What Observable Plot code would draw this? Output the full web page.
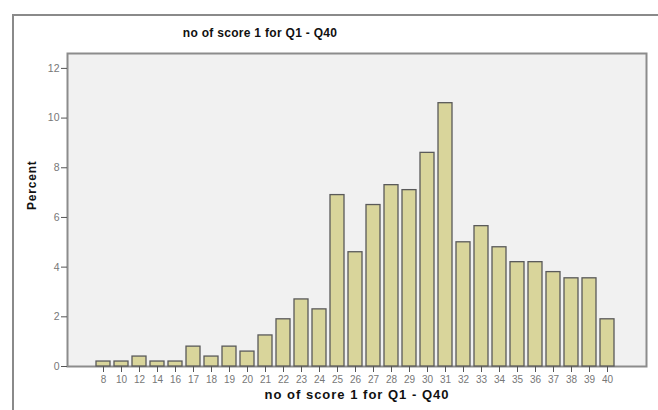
<!DOCTYPE html>
<html>
<head>
<meta charset="utf-8">
<script src="https://cdn.jsdelivr.net/npm/d3@7"></script>
<script src="https://cdn.jsdelivr.net/npm/@observablehq/plot@0.6"></script>
<style>
  html, body { margin: 0; padding: 0; background: #fff; }
  #wrap { position: relative; width: 658px; height: 410px; overflow: hidden; font-family: "Liberation Sans", Arial, sans-serif; }
  #outer { position: absolute; left: 12px; top: 14px; width: 700px; height: 460px; border-left: 2px solid #8a8a8a; border-top: 2px solid #8a8a8a; }
  #chart { position: absolute; left: 0; top: 0; }
</style>
</head>
<body>
<div id="wrap"><div id="outer"></div><div id="chart"></div></div>
<script>
const scores = [8, 10, 12, 14, 16, 17, 18, 19, 20, 21, 22, 23, 24, 25, 26, 27, 28, 29, 30, 31, 32, 33, 34, 35, 36, 37, 38, 39, 40];
const percents = [0.2, 0.2, 0.4, 0.2, 0.2, 0.8, 0.4, 0.8, 0.6, 1.25, 1.9, 2.7, 2.3, 6.9, 4.6, 6.5, 7.3, 7.1, 8.6, 10.6, 5.0, 5.65, 4.8, 4.2, 4.2, 3.8, 3.55, 3.55, 1.9];
const yTicks = [0, 2, 4, 6, 8, 10, 12];
const title = "no of score 1 for Q1 - Q40";
const xLabel = "no of score 1 for Q1 - Q40";
const yLabel = "Percent";

const data = scores.map((s, i) => ({score: String(s), pct: percents[i]}));

const chart = Plot.plot({
  width: 658,
  height: 410,
  marginLeft: 67,
  marginRight: 12,
  marginTop: 53,
  marginBottom: 44,
  style: {background: "transparent", fontFamily: "'Liberation Sans', Arial, sans-serif"},
  x: {domain: scores.map(String), padding: 0.22, insetLeft: 25, insetRight: 27},
  y: {domain: [0, 12.6]},
  marks: [
    Plot.frame({fill: "#f1f1f1", stroke: "#8c8c8c", strokeWidth: 2}),
    Plot.barY(data, {x: "score", y: "pct", fill: "#d9d59b", stroke: "#5a5a5a", strokeWidth: 1.3}),
    Plot.axisX({tickSize: 6, tickPadding: 3, fontSize: 10, color: "#777", stroke: "#555", label: null}),
    Plot.axisY({ticks: yTicks, tickSize: 6, tickPadding: 2, fontSize: 10.5, color: "#777", stroke: "#555", label: null, tickFormat: d => String(d)}),
    Plot.text([title], {frameAnchor: "top", dx: -97, dy: -25, fontSize: 12, fontWeight: "bold", fill: "#111"}),
    Plot.text([xLabel], {frameAnchor: "bottom", dy: 32, fontSize: 13, fontWeight: "bold", fill: "#111"}),
    Plot.text([yLabel], {frameAnchor: "left", dx: -35, rotate: -90, fontSize: 12, fontWeight: "bold", fill: "#111"})
  ]
});
const texts = chart.querySelectorAll('g[aria-label="text"]');
const spacings = ["0.3px", "1px", "0.8px"];
texts.forEach((g, i) => g.setAttribute("letter-spacing", spacings[i] || "0px"));
document.getElementById("chart").appendChild(chart);
</script>
</body>
</html>
